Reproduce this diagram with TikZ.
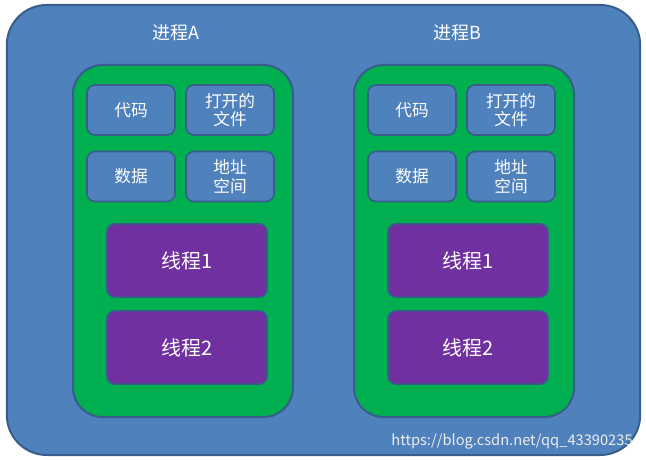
\documentclass[tikz,border=0pt]{standalone}
\usepackage{fontspec}
\setmainfont{Noto Sans CJK SC}
\begin{document}
\begin{tikzpicture}[x=0.75pt,y=-0.75pt,
  outer/.style={draw=myborder,line width=1.5pt,fill=myblue,rounded corners=30pt,minimum width=475pt,minimum height=337.5pt,inner sep=0},
  proc/.style={draw=myborder,line width=1.5pt,fill=mygreen,rounded corners=22pt,minimum width=165pt,minimum height=264pt,inner sep=0},
  sbox/.style={draw=myborder,line width=1.2pt,fill=myblue,rounded corners=6pt,minimum width=66pt,minimum height=37.5pt,inner sep=0,text=white,font=\fontsize{12.5}{14}\selectfont,align=center},
  thr/.style={draw=myborder,line width=1.2pt,fill=mypurple,rounded corners=6pt,minimum width=120pt,minimum height=55pt,inner sep=0,text=white,font=\fontsize{15}{17}\selectfont},
  ttl/.style={text=white,font=\fontsize{13.5}{15}\selectfont}]
\definecolor{myblue}{HTML}{4F81BD}
\definecolor{mygreen}{HTML}{00B050}
\definecolor{mypurple}{HTML}{7030A0}
\definecolor{myborder}{HTML}{385D8A}
\useasboundingbox (0,0) rectangle (646,460);
\node[outer] (o) at (323.5,230) {};
\node[ttl] (ta) at (176,33) {进程A};
\node[ttl] (tb) at (457,33) {进程B};
\foreach \n/\dx in {a/0,b/281}{
  \node[proc] (p\n) at (183+\dx,241) {};
  \node[sbox] (c\n) at (131+\dx,110) {代码};
  \node[sbox] (f\n) at (230+\dx,110) {打开的\\文件};
  \node[sbox] (d\n) at (131+\dx,176.5) {数据};
  \node[sbox] (s\n) at (230+\dx,176.5) {地址\\空间};
  \node[thr] (x\n) at (187+\dx,260.5) {线程1};
  \node[thr] (y\n) at (187+\dx,347.5) {线程2};
}
\node[text=white!85!gray,font=\fontsize{11}{12}\selectfont] (w) at (512,441) {https://blog.csdn.net/qq\_43390235};
\end{tikzpicture}
\end{document}
